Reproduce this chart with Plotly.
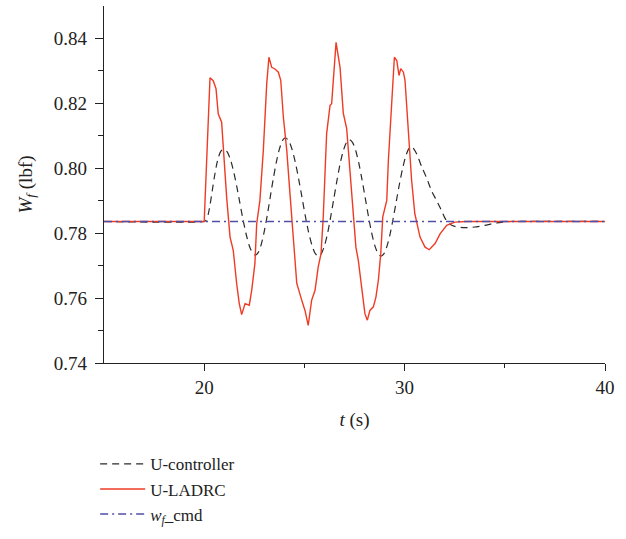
import plotly.graph_objects as go

# ---- data ----
t_ctrl = [15.0, 20.0, 20.1, 20.2, 20.3, 20.4, 20.5, 20.6, 20.7, 20.8, 20.9, 21.0,
          21.155, 21.31, 21.465, 21.62, 21.775, 21.93, 22.085, 22.24, 22.395, 22.55,
          22.7, 22.85, 23.0, 23.15, 23.3, 23.45, 23.6, 23.75, 23.9, 24.05,
          24.215, 24.38, 24.545, 24.71, 24.875, 25.04, 25.205, 25.37, 25.535, 25.7,
          25.855, 26.01, 26.165, 26.32, 26.475, 26.63, 26.785, 26.94, 27.095, 27.25,
          27.407, 27.564, 27.721, 27.878, 28.035, 28.192, 28.349, 28.506, 28.663, 28.82,
          28.973, 29.126, 29.279, 29.432, 29.585, 29.738, 29.891, 30.044, 30.197, 30.35,
          30.6, 30.85, 31.1, 31.35, 31.6, 31.8, 32.0, 32.2, 32.5, 33.0, 33.5, 34.0, 34.6, 35.3, 40.0]
w_ctrl = [0.7836, 0.7836, 0.7840, 0.7858, 0.7890, 0.7930, 0.7970, 0.8005, 0.8032, 0.8049, 0.8057, 0.8058,
          0.8050, 0.8027, 0.7991, 0.7946, 0.7895, 0.7844, 0.7799, 0.7763, 0.7740, 0.7732,
          0.7741, 0.7766, 0.7806, 0.7856, 0.7913, 0.7969, 0.8019, 0.8059, 0.8085, 0.8094,
          0.8085, 0.8059, 0.8019, 0.7968, 0.7912, 0.7855, 0.7804, 0.7764, 0.7738, 0.7729,
          0.7738, 0.7763, 0.7802, 0.7853, 0.7909, 0.7964, 0.8015, 0.8054, 0.8079, 0.8088,
          0.8079, 0.8054, 0.8014, 0.7964, 0.7909, 0.7853, 0.7803, 0.7763, 0.7738, 0.7729,
          0.7737, 0.7761, 0.7798, 0.7846, 0.7898, 0.7950, 0.7997, 0.8035, 0.8059, 0.8067,
          0.8045, 0.8005, 0.7970, 0.7930, 0.7900, 0.7875, 0.7848, 0.7830, 0.7821, 0.7817, 0.7819, 0.7824, 0.7832, 0.7836, 0.7836]

t_ladrc = [15.0, 20.0, 20.29, 20.45, 20.59, 20.70, 20.87, 20.95, 21.12, 21.29, 21.45, 21.62, 21.75, 21.87,
           22.04, 22.25, 22.37, 22.53, 22.62, 22.78, 22.95, 23.12, 23.23, 23.37, 23.53, 23.70, 23.82, 23.95,
           24.12, 24.28, 24.45, 24.62, 24.87, 25.03, 25.19, 25.36, 25.53, 25.69, 25.83, 25.94, 26.11, 26.28,
           26.36, 26.44, 26.58, 26.78, 26.94, 27.11, 27.28, 27.44, 27.57, 27.69, 27.86, 28.02, 28.14, 28.27,
           28.44, 28.57, 28.69, 28.81, 28.91, 29.02, 29.11, 29.19, 29.31, 29.41, 29.49, 29.61, 29.72, 29.81,
           29.94, 30.02, 30.10, 30.23, 30.35, 30.51, 30.77, 31.02, 31.23, 31.52, 31.77, 32.10, 32.51, 33.10, 40.0]
w_ladrc = [0.7836, 0.7836, 0.8279, 0.8270, 0.8245, 0.8168, 0.8142, 0.8055, 0.7911, 0.7788, 0.7747, 0.7645, 0.7583, 0.7549,
           0.7583, 0.7578, 0.7624, 0.7706, 0.7829, 0.7901, 0.8055, 0.8260, 0.8342, 0.8311, 0.8306, 0.8296, 0.8271, 0.8158,
           0.8055, 0.7922, 0.7788, 0.7645, 0.7593, 0.7562, 0.7516, 0.7593, 0.7624, 0.7696, 0.7737, 0.7850, 0.8107, 0.8194,
           0.8199, 0.8260, 0.8388, 0.8310, 0.8170, 0.8122, 0.7985, 0.7840, 0.7757, 0.7716, 0.7634, 0.7552, 0.7532, 0.7562,
           0.7573, 0.7603, 0.7655, 0.7737, 0.7850, 0.7880, 0.7901, 0.8024, 0.8147, 0.8250, 0.8342, 0.8332, 0.8286, 0.8307,
           0.8296, 0.8271, 0.8189, 0.8066, 0.7963, 0.7860, 0.7788, 0.7757, 0.7749, 0.7768, 0.7798, 0.7824, 0.7834, 0.7836, 0.7836]

t_cmd = [15.0, 40.0]
w_cmd = [0.7836, 0.7836]

x_ticks = [20, 30, 40]
y_ticks = [0.74, 0.76, 0.78, 0.80, 0.82, 0.84]

FONT = "Liberation Serif"

fig = go.Figure()
fig.add_trace(go.Scatter(x=t_ctrl, y=w_ctrl, mode="lines", name="U-controller",
                         line=dict(color="#2a2a2a", width=1.2, dash="7px,5px", shape="spline", smoothing=0.6)))
fig.add_trace(go.Scatter(x=t_ladrc, y=w_ladrc, mode="lines", name="U-LADRC",
                         line=dict(color="#ef3b24", width=1.4)))
fig.add_trace(go.Scatter(x=t_cmd, y=w_cmd, mode="lines", name="<i>w<sub>f</sub></i>_cmd",
                         line=dict(color="#4f4fa8", width=1.4, dash="8px,4px,2px,4px")))

axis_common = dict(showline=True, linecolor="#222", linewidth=1.3, showgrid=False, zeroline=False,
                   ticks="outside", tickcolor="#222", tickwidth=1.3, automargin=False,
                   tickfont=dict(family=FONT, size=19, color="#222"))

fig.update_xaxes(range=[15, 40], tickvals=x_ticks, ticklen=7,
                 minor=dict(tickvals=[25, 35], ticklen=4, ticks="outside", tickcolor="#222", tickwidth=1.3),
                 title=dict(text="<i>t</i> (s)", font=dict(family=FONT, size=19, color="#222")),
                 **axis_common)
fig.update_yaxes(range=[0.74, 0.85], tickvals=y_ticks, tickformat=".2f", ticklen=8,
                 minor=dict(tickvals=[0.75, 0.77, 0.79, 0.81, 0.83], ticklen=5, ticks="outside",
                            tickcolor="#222", tickwidth=1.3),
                 ticklabelstandoff=4,
                 **axis_common)

fig.add_annotation(text="<i>W<sub>f</sub></i> (lbf)", xref="paper", yref="paper", x=0, y=0.5,
                   xanchor="center", yanchor="middle", xshift=-78, textangle=-90, showarrow=False,
                   font=dict(family=FONT, size=19, color="#222"))

fig.update_layout(
    width=626, height=539,
    margin=dict(l=104, r=21, t=6, b=176, autoexpand=False),
    plot_bgcolor="white", paper_bgcolor="white",
    font=dict(family=FONT, size=19, color="#222"),
    showlegend=True,
    legend=dict(xref="container", yref="container", x=0.152, y=0.172, xanchor="left", yanchor="top",
                font=dict(family=FONT, size=17, color="#222"), bgcolor="rgba(0,0,0,0)",
                itemwidth=45, tracegroupgap=0),
)

fig.write_html("out.html")
